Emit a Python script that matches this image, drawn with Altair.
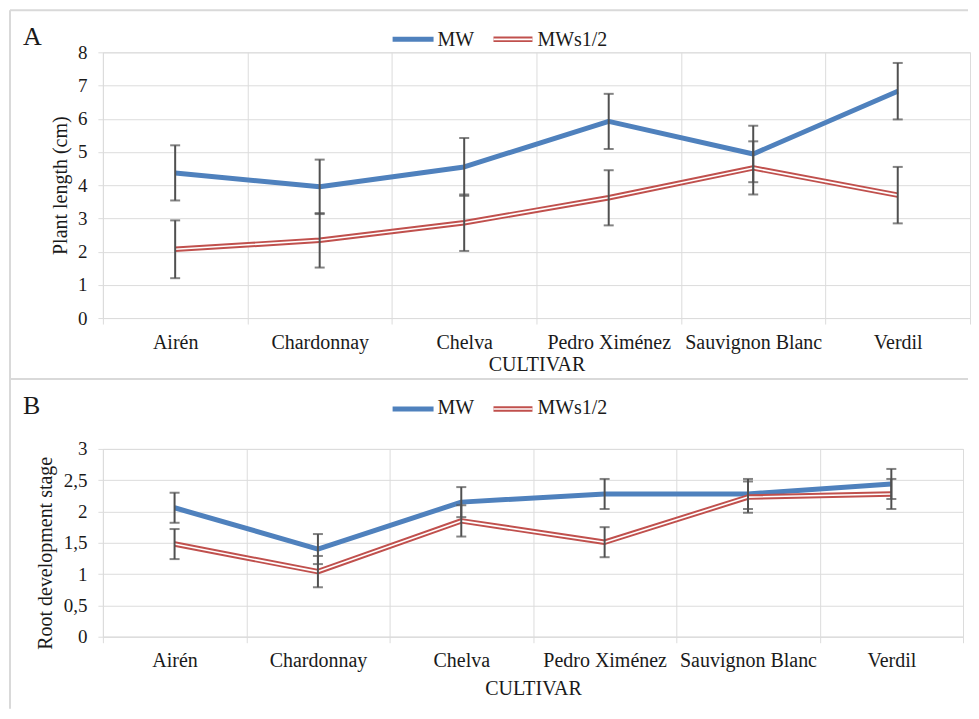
import altair as alt
import pandas as pd

# ---------------- data ----------------
cultivars = ["Airén", "Chardonnay", "Chelva", "Pedro Ximénez", "Sauvignon Blanc", "Verdil"]

# Panel A: plant length (cm)
a_mw = [4.37, 3.95, 4.55, 5.92, 4.94, 6.83]
a_mw_err = [0.83, 0.82, 0.87, 0.83, 0.85, 0.85]
a_mws = [2.07, 2.34, 2.87, 3.62, 4.52, 3.70]
a_mws_err = [0.87, 0.82, 0.85, 0.83, 0.80, 0.85]

# Panel B: root development stage
b_mw = [2.06, 1.40, 2.15, 2.28, 2.28, 2.44]
b_mw_err = [0.24, 0.24, 0.24, 0.24, 0.24, 0.24]
b_mws = [1.48, 1.04, 1.85, 1.51, 2.23, 2.28]
b_mws_err = [0.24, 0.25, 0.25, 0.24, 0.25, 0.24]

a_ticks = [0, 1, 2, 3, 4, 5, 6, 7, 8]
b_ticks = [0, 0.5, 1, 1.5, 2, 2.5, 3]

series_names = ["MW", "MWs1/2"]

FONT = "Liberation Serif, Times New Roman, serif"
TXT = "#1a1a1a"
GRID = "#DCDCDC"
BORDER = "#D9D9D9"
BLUE = "#4F81BD"
RED = "#C0504D"
EB = "#505050"


def frame(vals, errs):
    return pd.DataFrame({
        "cultivar": cultivars,
        "mean": vals,
        "lo": [v - e for v, e in zip(vals, errs)],
        "hi": [v + e for v, e in zip(vals, errs)],
    })


def make_panel(mw, mw_err, mws, mws_err, ydom, yvals, ytitle, ytx, yty, xty,
               w, h, letter, letter_y, leg_rule_y, leg_text_y, top_y, bottom_y,
               label_expr=None):
    df_mw = frame(mw, mw_err)
    df_mws = frame(mws, mws_err)
    df_all = pd.concat([df_mw, df_mws], ignore_index=True)

    xaxis = alt.Axis(title="CULTIVAR", tickBand="extent", grid=True, gridColor=GRID,
                     gridWidth=1, domainColor=GRID, tickColor=GRID, tickSize=6,
                     labelPadding=8, labelAngle=0, labelFont=FONT, labelFontSize=20,
                     labelColor=TXT, titleFont=FONT, titleFontSize=20,
                     titleFontWeight="normal", titleColor=TXT, titleY=xty,
                     titleBaseline="middle")
    x = alt.X("cultivar:N", sort=cultivars,
              scale=alt.Scale(type="band", domain=cultivars, paddingInner=0, paddingOuter=0),
              axis=xaxis, bandPosition=0.5)

    ykw = dict(title=ytitle, values=yvals, grid=True, gridColor=GRID, domain=False,
               tickColor=GRID, tickSize=5, labelPadding=11, labelFont=FONT,
               labelFontSize=19, labelColor=TXT, titleFont=FONT, titleFontSize=20,
               titleFontWeight="normal", titleColor=TXT, titleX=ytx, titleY=yty,
               titleBaseline="middle")
    if label_expr:
        ykw["labelExpr"] = label_expr
    yaxis = alt.Axis(**ykw)

    def y(field):
        return alt.Y(field, type="quantitative",
                     scale=alt.Scale(domain=ydom, nice=False, zero=True), axis=yaxis)

    line_mw = alt.Chart(df_mw).mark_line(color=BLUE, strokeWidth=5, strokeJoin="round").encode(
        x=x, y=y("mean"))
    line_mws_r = alt.Chart(df_mws).mark_line(color=RED, strokeWidth=5.5, strokeJoin="round").encode(
        x=x, y=y("mean"))
    line_mws_w = alt.Chart(df_mws).mark_line(color="white", strokeWidth=1.6, strokeJoin="round").encode(
        x=x, y=y("mean"))

    err_rule = alt.Chart(df_all).mark_rule(color=EB, strokeWidth=2).encode(
        x=x, y=y("lo"), y2=alt.Y2("hi"))
    cap_lo = alt.Chart(df_all).mark_tick(color=EB, thickness=2, size=10, orient="horizontal").encode(
        x=x, y=y("lo"))
    cap_hi = alt.Chart(df_all).mark_tick(color=EB, thickness=2, size=10, orient="horizontal").encode(
        x=x, y=y("hi"))

    one = pd.DataFrame({"k": [0]})
    top_line = alt.Chart(one).mark_rule(color=BORDER, strokeWidth=2).encode(
        x=alt.value(-93), x2=alt.value(866), y=alt.value(top_y))
    left_line = alt.Chart(one).mark_rule(color=BORDER, strokeWidth=2).encode(
        x=alt.value(-93), y=alt.value(top_y), y2=alt.value(bottom_y))
    letter_txt = alt.Chart(one).mark_text(text=letter, font=FONT, fontSize=26, color=TXT,
                                          align="left", baseline="middle").encode(
        x=alt.value(-80), y=alt.value(letter_y))

    leg_mw = alt.Chart(one).mark_rule(color=BLUE, strokeWidth=5).encode(
        x=alt.value(290), x2=alt.value(331), y=alt.value(leg_rule_y))
    leg_mw_t = alt.Chart(one).mark_text(text=series_names[0], font=FONT, fontSize=20, color=TXT,
                                        align="left", baseline="alphabetic").encode(
        x=alt.value(335), y=alt.value(leg_text_y))
    leg_mws_r = alt.Chart(one).mark_rule(color=RED, strokeWidth=5.5).encode(
        x=alt.value(391), x2=alt.value(430), y=alt.value(leg_rule_y))
    leg_mws_w = alt.Chart(one).mark_rule(color="white", strokeWidth=1.6).encode(
        x=alt.value(391), x2=alt.value(430), y=alt.value(leg_rule_y))
    leg_mws_t = alt.Chart(one).mark_text(text=series_names[1], font=FONT, fontSize=20, color=TXT,
                                         align="left", baseline="alphabetic").encode(
        x=alt.value(435), y=alt.value(leg_text_y))

    return alt.layer(line_mw, line_mws_r, line_mws_w, err_rule, cap_lo, cap_hi,
                     top_line, left_line, letter_txt,
                     leg_mw, leg_mw_t, leg_mws_r, leg_mws_w, leg_mws_t).properties(
        width=w, height=h)


panel_a = make_panel(a_mw, a_mw_err, a_mws, a_mws_err, [0, 8], a_ticks,
                     "Plant length (cm)", -42, 133, 47, 868, 266, "A",
                     -15, -13, -6, -42, 327)
panel_b = make_panel(b_mw, b_mw_err, b_mws, b_mws_err, [0, 3], b_ticks,
                     "Root development stage", -57, 104, 52, 861, 188, "B",
                     -43, -40, -35, -70, 260,
                     label_expr="replace(format(datum.value, '~g'), '.', ',')")

chart = alt.vconcat(panel_a, panel_b, spacing=131).properties(
    bounds="flush", padding=0
).configure_view(strokeWidth=0).configure(background="white")

chart.save("out.html", embed_options={"renderer": "svg", "actions": False})
